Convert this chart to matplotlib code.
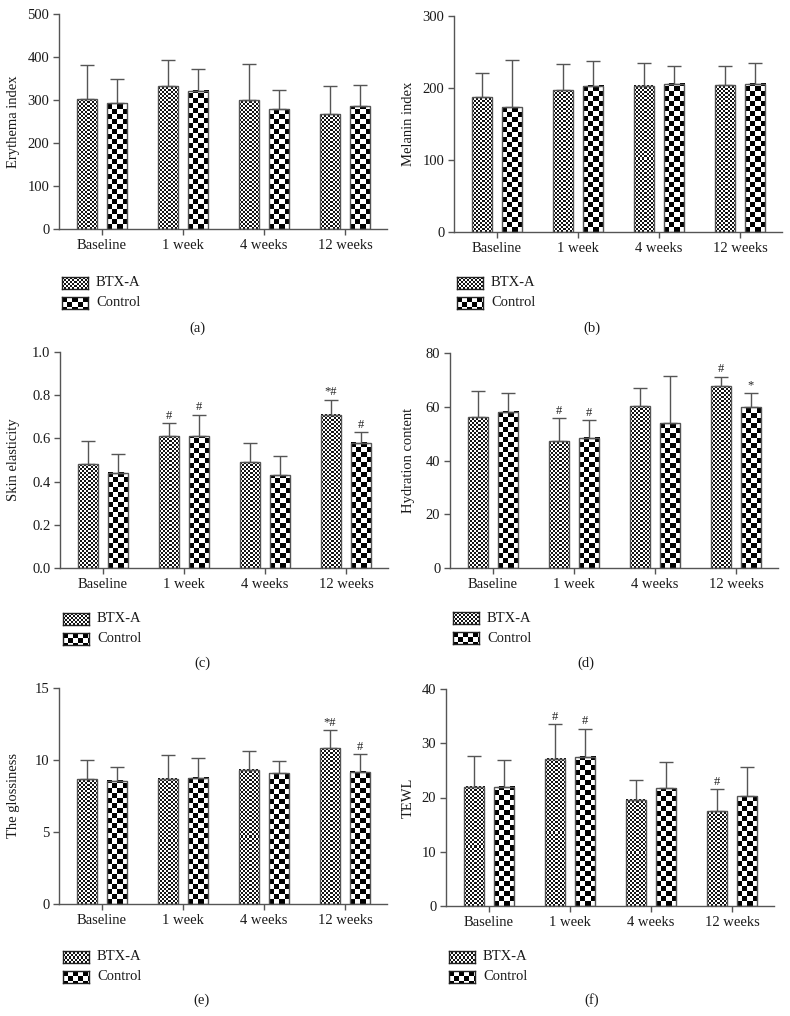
import numpy as np
import matplotlib
matplotlib.use('Agg')
import matplotlib.pyplot as plt
from matplotlib.colors import ListedColormap

plt.rcParams['font.family'] = ['Liberation Serif', 'DejaVu Serif']

timepoints = ['Baseline', '1 week', '4 weeks', '12 weeks']
groups = ['BTX-A', 'Control']

# (a) Erythema index
ery_btx = [302, 332, 299, 267]
ery_btx_sd = [79, 62, 84, 66]
ery_ctl = [292, 322, 279, 286]
ery_ctl_sd = [58, 51, 44, 49]
ery_btx_mark = ['', '', '', '']
ery_ctl_mark = ['', '', '', '']

# (b) Melanin index
mel_btx = [187, 197, 203, 204]
mel_btx_sd = [34, 37, 32, 26]
mel_ctl = [173, 203, 206, 206]
mel_ctl_sd = [66, 34, 24, 29]
mel_btx_mark = ['', '', '', '']
mel_ctl_mark = ['', '', '', '']

# (c) Skin elasticity
ela_btx = [0.48, 0.61, 0.49, 0.71]
ela_btx_sd = [0.11, 0.06, 0.09, 0.07]
ela_ctl = [0.44, 0.61, 0.43, 0.58]
ela_ctl_sd = [0.09, 0.10, 0.09, 0.05]
ela_btx_mark = ['', '#', '', '*#']
ela_ctl_mark = ['', '#', '', '#']

# (d) Hydration content
hyd_btx = [56.1, 47.1, 60.2, 67.7]
hyd_btx_sd = [9.7, 8.6, 6.7, 3.5]
hyd_ctl = [58.2, 48.5, 53.9, 59.9]
hyd_ctl_sd = [7.1, 6.4, 17.5, 5.4]
hyd_btx_mark = ['', '#', '', '#']
hyd_ctl_mark = ['', '#', '', '*']

# (e) The glossiness
glo_btx = [8.66, 8.70, 9.31, 10.81]
glo_btx_sd = [1.32, 1.67, 1.29, 1.27]
glo_ctl = [8.56, 8.75, 9.07, 9.17]
glo_ctl_sd = [0.98, 1.39, 0.84, 1.22]
glo_btx_mark = ['', '', '', '*#']
glo_ctl_mark = ['', '', '', '#']

# (f) TEWL
tew_btx = [22.0, 27.1, 19.6, 17.5]
tew_btx_sd = [5.6, 6.4, 3.6, 4.0]
tew_ctl = [22.0, 27.5, 21.7, 20.2]
tew_ctl_sd = [4.9, 5.2, 4.8, 5.5]
tew_btx_mark = ['', '#', '', '#']
tew_ctl_mark = ['', '#', '', '']

panels = [
    dict(tag='(a)', ylabel='Erythema index', ymax=500, yticks=[0, 100, 200, 300, 400, 500], fmt='{:.0f}',
         btx=ery_btx, btx_sd=ery_btx_sd, ctl=ery_ctl, ctl_sd=ery_ctl_sd, bm=ery_btx_mark, cm=ery_ctl_mark,
         box=(59, 14, 229), lab_x=20, leg=(62, 283), tagpos=(197, 328)),
    dict(tag='(b)', ylabel='Melanin index', ymax=300, yticks=[0, 100, 200, 300], fmt='{:.0f}',
         btx=mel_btx, btx_sd=mel_btx_sd, ctl=mel_ctl, ctl_sd=mel_ctl_sd, bm=mel_btx_mark, cm=mel_ctl_mark,
         box=(454, 16, 232), lab_x=415, leg=(457, 283), tagpos=(592, 328)),
    dict(tag='(c)', ylabel='Skin elasticity', ymax=1.0, yticks=[0, 0.2, 0.4, 0.6, 0.8, 1.0], fmt='{:.1f}',
         btx=ela_btx, btx_sd=ela_btx_sd, ctl=ela_ctl, ctl_sd=ela_ctl_sd, bm=ela_btx_mark, cm=ela_ctl_mark,
         box=(60, 352, 568), lab_x=20, leg=(63, 619), tagpos=(202, 663)),
    dict(tag='(d)', ylabel='Hydration content', ymax=80, yticks=[0, 20, 40, 60, 80], fmt='{:.0f}',
         btx=hyd_btx, btx_sd=hyd_btx_sd, ctl=hyd_ctl, ctl_sd=hyd_ctl_sd, bm=hyd_btx_mark, cm=hyd_ctl_mark,
         box=(450, 353, 568), lab_x=415, leg=(453, 618), tagpos=(586, 663)),
    dict(tag='(e)', ylabel='The glossiness', ymax=15, yticks=[0, 5, 10, 15], fmt='{:.0f}',
         btx=glo_btx, btx_sd=glo_btx_sd, ctl=glo_ctl, ctl_sd=glo_ctl_sd, bm=glo_btx_mark, cm=glo_ctl_mark,
         box=(59, 688, 904), lab_x=20, leg=(63, 957), tagpos=(202, 1000)),
    dict(tag='(f)', ylabel='TEWL', ymax=40, yticks=[0, 10, 20, 30, 40], fmt='{:.0f}',
         btx=tew_btx, btx_sd=tew_btx_sd, ctl=tew_ctl, ctl_sd=tew_ctl_sd, bm=tew_btx_mark, cm=tew_ctl_mark,
         box=(446, 689, 906), lab_x=415, leg=(449, 957), tagpos=(592, 1000)),
]

W, H = 790, 1016
fig = plt.figure(figsize=(W / 100, H / 100), dpi=100)

XMIN, XMAX = -0.53, 3.52
AX_W = 328
BAR_W = 0.247
OFF = 0.185
EDGE = '#555555'

STYLES = {
    'BTX-A': dict(cell=2, dark='#141414'),
    'Control': dict(cell=5, dark='#000000'),
}


def checker(wp, hp, cell):
    jj, ii = np.meshgrid(np.arange(wp), np.arange(hp))
    return ((ii // cell + jj // cell) % 2).astype(float)


def checker_fill(ax, rect, style):
    x0, y0 = rect.get_x(), rect.get_y()
    w, h = rect.get_width(), rect.get_height()
    p0 = ax.transData.transform((x0, y0))
    p1 = ax.transData.transform((x0 + w, y0 + h))
    wp = max(int(round(p1[0] - p0[0])), 1)
    hp = max(int(round(p1[1] - p0[1])), 1)
    pat = checker(wp, hp, style['cell'])
    ax.imshow(pat, cmap=ListedColormap([style['dark'], 'white']), vmin=0, vmax=1,
              extent=(x0, x0 + w, y0, y0 + h), origin='lower',
              interpolation='nearest', aspect='auto', zorder=1.5)


for p in panels:
    left, top, bottom = p['box']
    ax = fig.add_axes([left / W, 1 - bottom / H, AX_W / W, (bottom - top) / H])
    ax.set_xlim(XMIN, XMAX)
    ax.set_ylim(0, p['ymax'])
    x = np.arange(len(timepoints))
    series = [('BTX-A', p['btx'], p['btx_sd'], p['bm'], -OFF),
              ('Control', p['ctl'], p['ctl_sd'], p['cm'], OFF)]
    for name, vals, sds, marks, off in series:
        bars = ax.bar(x + off, vals, width=BAR_W, facecolor='none', edgecolor=EDGE,
                      linewidth=1.0, zorder=2)
        for r in bars:
            checker_fill(ax, r, STYLES[name])
        ax.errorbar(x + off, vals, yerr=[np.zeros(len(vals)), sds], fmt='none',
                    ecolor=EDGE, elinewidth=1.0, capsize=5, capthick=1.0, zorder=3)
        for xi, v, s, m in zip(x + off, vals, sds, marks):
            if m:
                ax.annotate(m, (xi, v + s), xytext=(0, 1), textcoords='offset points',
                            ha='center', va='bottom', fontsize=9, color='#222222')
    ax.set_xlim(XMIN, XMAX)
    ax.set_ylim(0, p['ymax'])
    ax.set_xticks(x)
    ax.set_xticklabels(timepoints)
    ax.set_yticks(p['yticks'])
    ax.set_yticklabels([p['fmt'].format(t) for t in p['yticks']])
    for s in ['top', 'right']:
        ax.spines[s].set_visible(False)
    for s in ['left', 'bottom']:
        ax.spines[s].set_color(EDGE)
        ax.spines[s].set_linewidth(1.0)
    ax.tick_params(direction='out', length=4, width=1.0, color=EDGE, labelsize=10.5,
                   labelcolor='#1a1a1a', pad=3)
    ax.set_ylabel(p['ylabel'], fontsize=10.5, color='#1a1a1a')
    ax.yaxis.set_label_coords((p['lab_x'] - left) / AX_W, 0.5)

    # legend
    lx, ly = p['leg']
    for k, name in enumerate(groups):
        cy = ly + 20 * k
        lax = fig.add_axes([lx / W, 1 - (cy + 6) / H, 26 / W, 12 / H])
        lax.imshow(checker(26, 12, STYLES[name]['cell']),
                   cmap=ListedColormap([STYLES[name]['dark'], 'white']), vmin=0, vmax=1,
                   interpolation='nearest', aspect='auto')
        lax.set_xticks([])
        lax.set_yticks([])
        for s in lax.spines.values():
            s.set_color('#222222')
            s.set_linewidth(1.0)
        fig.text((lx + 34) / W, 1 - cy / H, name, ha='left', va='center', fontsize=10.5,
                 color='#1a1a1a')

    tx, ty = p['tagpos']
    fig.text(tx / W, 1 - ty / H, p['tag'], ha='center', va='center', fontsize=10.5,
             color='#1a1a1a')

fig.savefig('out.png', dpi=100)
